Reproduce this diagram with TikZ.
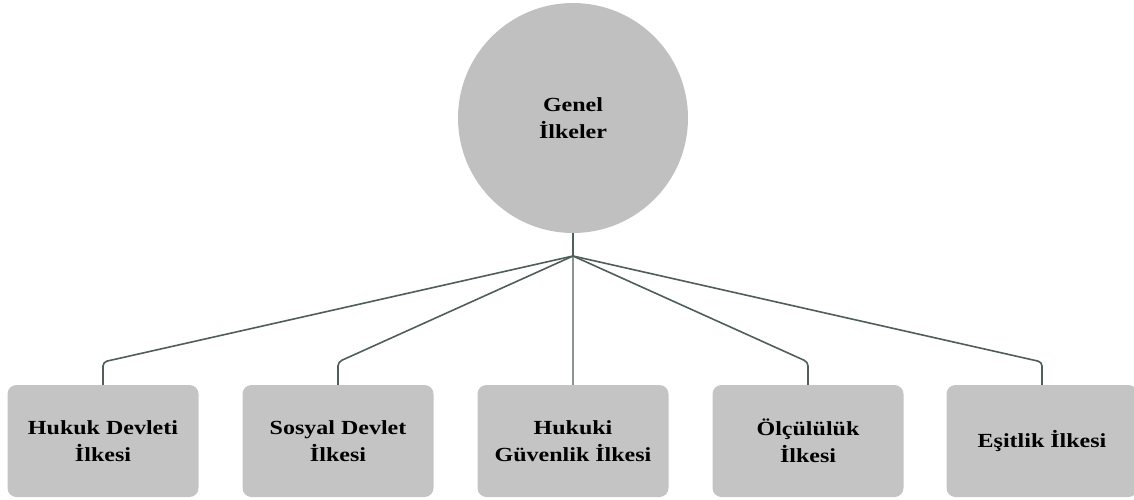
\documentclass[tikz,border=0pt]{standalone}
\usepackage{fontspec}
\setmainfont{Liberation Serif}[FakeStretch=1.2]
\begin{document}
\begin{tikzpicture}[x=1pt,y=-1pt,
  lbl/.style={font=\bfseries\fontsize{20}{27}\selectfont, align=center, text=black},
  hub/.style={circle, fill=circfill, draw=none, minimum size=230pt, inner sep=0pt, lbl},
  topic/.style={rounded corners=9pt, fill=boxfill, draw=none, minimum width=191pt, minimum height=112pt, inner sep=0pt, lbl},
  link/.style={draw=linkgreen, line width=1.6pt, rounded corners=4pt},
  midlink/.style={draw=midgray, line width=1.8pt}
]
\definecolor{circfill}{HTML}{C0C0C0}
\definecolor{boxfill}{HTML}{C4C4C4}
\definecolor{linkgreen}{HTML}{4E5E58}
\definecolor{midgray}{HTML}{8A9492}
\useasboundingbox (0,0) rectangle (1134,499);

% central concept
\node[hub] (g) at (573,118) {Genel\\İlkeler};

% principles
\node[topic] (b1) at (103,441) {Hukuk Devleti\\İlkesi};
\node[topic] (b2) at (338,441) {Sosyal Devlet\\İlkesi};
\node[topic] (b3) at (573,441) {Hukuki\\Güvenlik İlkesi};
\node[topic] (b4) at (808,441) {Ölçülülük\\İlkesi};
\node[topic] (b5) at (1042,441) {Eşitlik İlkesi};

% branching point below the circle
\coordinate (j) at (573,256);
\draw[link] (g.south) -- (j);
\draw[midlink] (j) -- (b3.north);
\draw[link] (j) -- (b1.north |- 0,362) -- (b1.north);
\draw[link] (j) -- (b2.north |- 0,362) -- (b2.north);
\draw[link] (j) -- (b4.north |- 0,362) -- (b4.north);
\draw[link] (j) -- (b5.north |- 0,362) -- (b5.north);
\end{tikzpicture}
\end{document}
